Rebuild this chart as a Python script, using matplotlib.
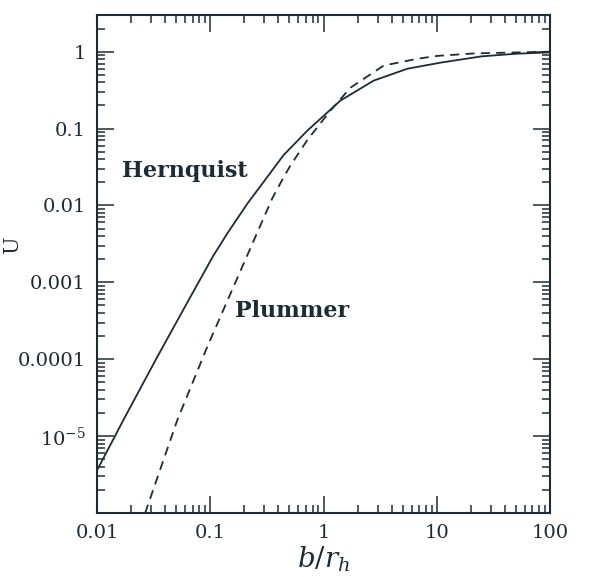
import matplotlib
matplotlib.use("Agg")
import matplotlib.pyplot as plt
from matplotlib.ticker import FixedLocator, LogLocator, NullFormatter

plt.rcParams.update({'font.family': 'DejaVu Serif', 'mathtext.fontset': 'dejavuserif'})

# values (log-log)
hern_b = [0.01, 0.0144, 0.017, 0.034, 0.0665, 0.106, 0.141, 0.212, 0.294,
          0.443, 0.72, 1.41, 2.77, 5.5, 10.8, 25, 50, 100]
hern_u = [3.6e-6, 1.0e-5, 1.6e-5, 1.07e-4, 6.4e-4, 2.2e-3, 4.3e-3, 1.05e-2,
          2.0e-2, 4.5e-2, 0.094, 0.231, 0.42, 0.60, 0.72, 0.87, 0.94, 0.98]

plum_b = [0.024, 0.0266, 0.051, 0.094, 0.16, 0.277, 0.354, 0.443, 0.51,
          0.72, 1.15, 1.73, 3.4, 6.8, 10, 21.5, 100]
plum_u = [6.4e-7, 1.0e-6, 1.6e-5, 1.45e-4, 8.7e-4, 5.5e-3, 1.25e-2, 2.31e-2,
          3.3e-2, 7.1e-2, 0.171, 0.34, 0.66, 0.81, 0.88, 0.95, 1.0]

y_ticks = [1e-5, 1e-4, 1e-3, 1e-2, 0.1, 1]
y_labels = [r'$10^{-5}$', '0.0001', '0.001', '0.01', '0.1', '1']
x_ticks = [0.01, 0.1, 1, 10, 100]
x_labels = ['0.01', '0.1', '1', '10', '100']

ink = '#1d2b34'

fig = plt.figure(figsize=(6.03, 5.77), dpi=100)
ax = fig.add_axes([0.161, 0.111, 0.751, 0.863])

ax.plot(hern_b, hern_u, color=ink, lw=1.3)
ax.plot(plum_b, plum_u, color=ink, lw=1.3, linestyle=(0, (5, 3.5)))

ax.set_xscale('log')
ax.set_yscale('log')
ax.set_xlim(0.01, 100)
ax.set_ylim(1e-6, 3)

ax.xaxis.set_major_locator(FixedLocator(x_ticks))
ax.set_xticklabels(x_labels)
ax.yaxis.set_major_locator(FixedLocator(y_ticks))
ax.set_yticklabels(y_labels)
ax.xaxis.set_minor_locator(LogLocator(base=10, subs=range(2, 10), numticks=20))
ax.yaxis.set_minor_locator(LogLocator(base=10, subs=range(2, 10), numticks=20))
ax.xaxis.set_minor_formatter(NullFormatter())
ax.yaxis.set_minor_formatter(NullFormatter())

ax.tick_params(which='both', direction='in', top=True, right=True, color=ink,
               labelcolor=ink, labelsize=14, width=1.1)
ax.tick_params(which='major', length=12, pad=8)
ax.tick_params(which='minor', length=6)
for s in ax.spines.values():
    s.set_linewidth(1.5)
    s.set_color(ink)

ax.text(0.0165, 0.028, 'Hernquist', fontsize=16, fontweight='bold', color=ink,
        va='center', ha='left')
ax.text(0.165, 0.00042, 'Plummer', fontsize=16, fontweight='bold', color=ink,
        va='center', ha='left')

ax.set_xlabel(r'$b/r_h$', fontsize=20, color=ink, labelpad=2)
ax.set_ylabel('U', fontsize=15, color=ink)
ax.yaxis.set_label_coords(-0.165, 0.54)

fig.savefig('out.png', dpi=100)
